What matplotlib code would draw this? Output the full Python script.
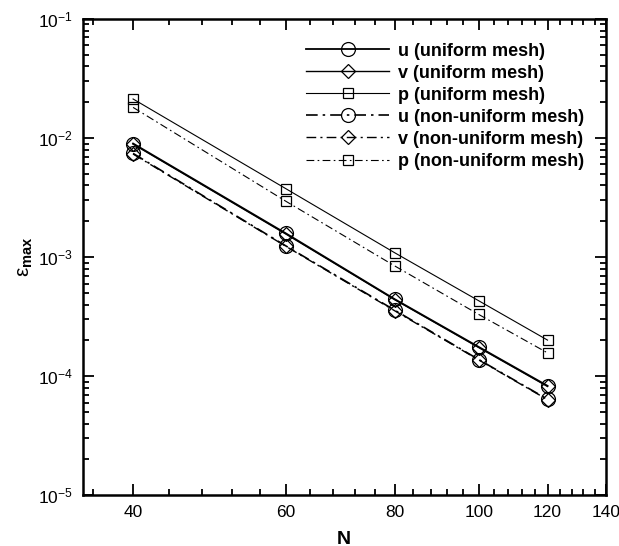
import numpy as np
import matplotlib
matplotlib.use("Agg")
import matplotlib.pyplot as plt
from matplotlib.ticker import FixedLocator, LogLocator, NullFormatter, LogFormatterSciNotation

plt.rcParams['font.family'] = ['Liberation Sans', 'DejaVu Sans']
plt.rcParams['mathtext.fontset'] = 'custom'
plt.rcParams['mathtext.rm'] = 'Liberation Sans'
plt.rcParams['mathtext.it'] = 'Liberation Sans:italic'
plt.rcParams['mathtext.bf'] = 'Liberation Sans:bold'

# grid sizes
N = [40, 60, 80, 100, 120]

# max error, uniform mesh
u_uniform = [9.0e-3, 1.58e-3, 4.44e-4, 1.76e-4, 8.3e-5]
v_uniform = [8.9e-3, 1.56e-3, 4.40e-4, 1.74e-4, 8.2e-5]
p_uniform = [2.13e-2, 3.75e-3, 1.09e-3, 4.30e-4, 2.01e-4]

# max error, non-uniform mesh
u_nonuni = [7.43e-3, 1.24e-3, 3.59e-4, 1.38e-4, 6.4e-5]
v_nonuni = [7.35e-3, 1.23e-3, 3.55e-4, 1.37e-4, 6.35e-5]
p_nonuni = [1.81e-2, 2.94e-3, 8.45e-4, 3.30e-4, 1.57e-4]

x_major = [40, 60, 80, 100, 120, 140]

fig = plt.figure(figsize=(6.19, 5.46), dpi=100)
ax = fig.add_axes([0.1336, 0.0929, 0.8449, 0.8723])

dd = (0, (7, 3, 1.5, 3))
series = [
    (u_uniform, 'o', '-', 1.3, 'u (uniform mesh)'),
    (v_uniform, 'D', '-', 1.0, 'v (uniform mesh)'),
    (p_uniform, 's', '-', 0.8, 'p (uniform mesh)'),
    (u_nonuni, 'o', dd, 1.2, 'u (non-uniform mesh)'),
    (v_nonuni, 'D', dd, 1.0, 'v (non-uniform mesh)'),
    (p_nonuni, 's', dd, 0.8, 'p (non-uniform mesh)'),
]
msize = {'o': 10, 'D': 7, 's': 7.5}
for vals, mk, ls, lw, lab in series:
    ax.plot(N, vals, color='black', linestyle=ls, linewidth=lw, marker=mk,
            markersize=msize[mk], fillstyle='none', markeredgewidth=0.9,
            label=lab)

ax.set_xscale('log')
ax.set_yscale('log')
ax.set_xlim(35, 140)
ax.set_ylim(1e-5, 1e-1)

ax.xaxis.set_major_locator(FixedLocator(x_major))
ax.xaxis.set_minor_locator(FixedLocator([v for v in range(36, 140, 4) if v % 20 != 0]))
ax.set_xticklabels([str(v) for v in x_major])
ax.xaxis.set_minor_formatter(NullFormatter())
ax.yaxis.set_major_locator(LogLocator(base=10))
ax.yaxis.set_minor_locator(LogLocator(base=10, subs=np.arange(2, 10)))
ax.yaxis.set_major_formatter(LogFormatterSciNotation())
ax.yaxis.set_minor_formatter(NullFormatter())

ax.tick_params(which='both', direction='in', top=True, right=True, labelsize=12.5, width=1.3)
ax.tick_params(which='major', length=8, pad=7)
ax.tick_params(which='minor', length=4)
for s in ax.spines.values():
    s.set_linewidth(1.8)

ax.set_xlabel('N', fontsize=14, fontweight='bold')
ax.xaxis.set_label_coords(0.5, -0.074)
ax.set_ylabel(r'$\mathrm{\epsilon}_{\mathbf{max}}$', fontsize=15, labelpad=2)

ax.legend(loc='upper left', bbox_to_anchor=(0.495, 0.922), bbox_transform=fig.transFigure,
          frameon=False, prop={'weight': 'bold', 'size': 13}, handlelength=4.6,
          handletextpad=0.5, labelspacing=0.28, borderpad=0, borderaxespad=0)

fig.savefig('out.png', dpi=100)
